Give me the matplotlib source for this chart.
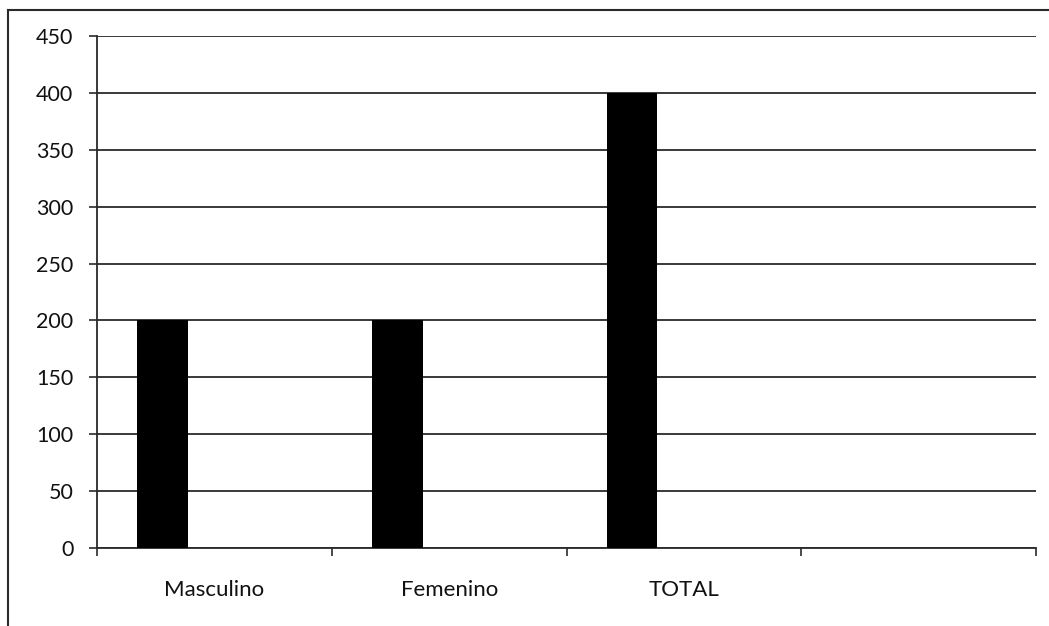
import numpy as np
import matplotlib
matplotlib.use("Agg")
import matplotlib.pyplot as plt
from matplotlib.lines import Line2D

# Poblacion por sexo
categorias = ["Masculino", "Femenino", "TOTAL", ""]
valores = [200, 200, 400, 0]
y_ticks = [0, 50, 100, 150, 200, 250, 300, 350, 400, 450]

plt.rcParams["font.family"] = ["Lato", "DejaVu Sans"]

fig = plt.figure(figsize=(10.49, 6.26), dpi=100)
ax = fig.add_axes([0.0925, 0.1246, 0.8951, 0.8179])

x = np.arange(len(categorias))
ancho = 0.217
desplazamiento = -0.221  # barra a la izquierda del centro de cada grupo
ax.bar(x[:3] + desplazamiento, valores[:3], width=ancho, color="black",
       edgecolor="none", zorder=3)

ax.set_xlim(-0.5, len(categorias) - 0.5)
ax.set_ylim(0, 450)
ax.set_yticks(y_ticks)
ax.yaxis.grid(True, color="#2a2a2a", linewidth=1.3, zorder=0)
ax.set_axisbelow(True)

# marcas en los limites de cada categoria, etiquetas centradas
ax.set_xticks(np.arange(-0.5, len(categorias)), minor=False)
ax.set_xticklabels([])
ax.set_xticks(x, minor=True)
ax.set_xticklabels(categorias, minor=True)
ax.tick_params(axis="x", which="major", length=6, width=1.2, color="#2a2a2a")
ax.tick_params(axis="x", which="minor", length=0, pad=23, labelsize=16,
               labelcolor="#111111")
ax.tick_params(axis="y", length=6, width=1.2, color="#2a2a2a",
               labelsize=15.5, pad=11, labelcolor="#111111")

for lado in ["top", "right"]:
    ax.spines[lado].set_visible(False)
for lado in ["left", "bottom"]:
    ax.spines[lado].set_color("#2a2a2a")
    ax.spines[lado].set_linewidth(1.3)

# marco exterior del grafico (solo arriba e izquierda)
fig.add_artist(Line2D([8 / 1049, 8 / 1049], [0, 1 - 10 / 626],
                      transform=fig.transFigure, color="#2a2a2a", linewidth=1.5))
fig.add_artist(Line2D([8 / 1049, 1], [1 - 10 / 626, 1 - 10 / 626],
                      transform=fig.transFigure, color="#2a2a2a", linewidth=1.5))

fig.savefig("out.png", dpi=100)
